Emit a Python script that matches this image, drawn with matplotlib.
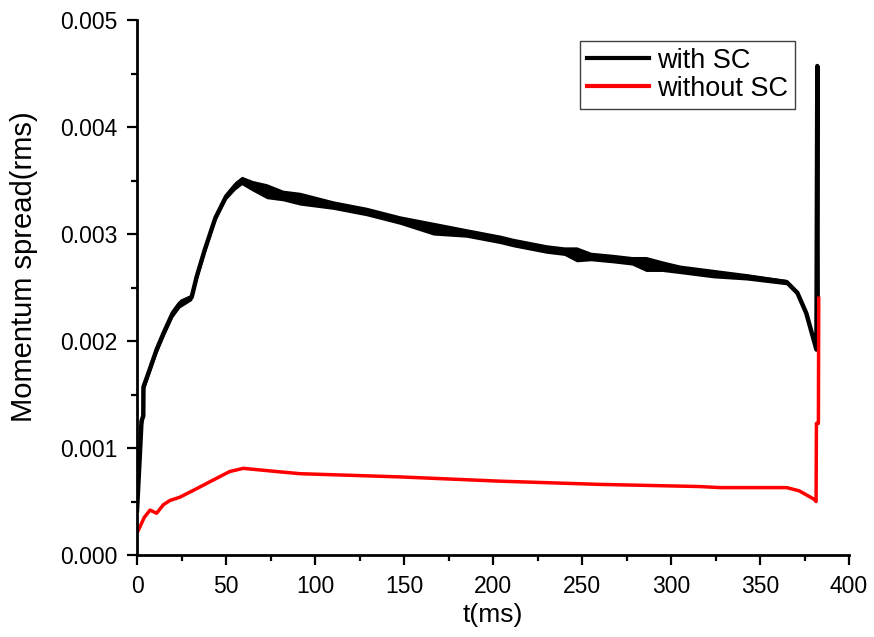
import matplotlib
matplotlib.use("Agg")
import matplotlib.pyplot as plt
from matplotlib.ticker import MultipleLocator

plt.rcParams['font.family'] = ['Liberation Sans', 'DejaVu Sans']

# with SC (black): time (ms), centre value, half thickness of the oscillation band
t_sc = [0, 1.7, 2.5, 3.5, 3.6, 6.4, 11, 14.8, 20, 24, 30.7, 33.5, 38, 44, 50, 55, 58.8,
        65, 72.9, 82, 91.6, 110.3, 129, 147.8, 166.5, 185, 204, 211.4, 230, 240, 247, 255,
        267.5, 278, 286, 295, 305, 323.8, 342.5, 365, 368, 371, 376, 381.7, 382.2, 382.4]
sc_mid = [0.00042, 0.00098, 0.00125, 0.00130, 0.00157, 0.00170, 0.00192, 0.00207, 0.00226,
          0.00235, 0.00241, 0.00260, 0.00285, 0.00315, 0.00335, 0.00345, 0.00350,
          0.00345, 0.00340, 0.00336, 0.00333, 0.00327, 0.00321, 0.00313, 0.00305, 0.00301,
          0.00295, 0.00292, 0.00286, 0.00284, 0.00281, 0.00279, 0.00277, 0.00275, 0.00272,
          0.00270, 0.00267, 0.00263, 0.00260, 0.00255, 0.00250, 0.00245, 0.00226, 0.00192,
          0.00457, 0.00240]
sc_half = [0.000025, 0.00004, 0.00005, 0.00005, 0.00005, 0.00004, 0.00004, 0.00004, 0.00004,
           0.00004, 0.00003, 0.00004, 0.00004, 0.00003, 0.00003, 0.00004, 0.00004,
           0.00005, 0.00007, 0.00005, 0.00006, 0.00004, 0.00004, 0.00004, 0.00006, 0.00004,
           0.00004, 0.00004, 0.00004, 0.00004, 0.00007, 0.00004, 0.00004, 0.00004, 0.00007,
           0.00005, 0.00004, 0.00004, 0.00003, 0.000025, 0.000025, 0.000025, 0.000025,
           0.00001, 0.00001, 0.00001]

# without SC (red)
t_nosc = [0, 0.7, 4, 7.3, 11, 14.8, 18.5, 24, 33.5, 42.7, 52, 59.7, 78.5, 91.6, 147.8,
          204, 260, 316, 327.5, 365, 372, 380.5, 381.5, 381.7, 382.8, 383.0]
nosc = [0.00021, 0.00023, 0.00035, 0.00042, 0.00039, 0.00047, 0.00051, 0.00054, 0.00062,
        0.00070, 0.00078, 0.00081, 0.00078, 0.00076, 0.00073, 0.00069, 0.00066, 0.00064,
        0.00063, 0.00063, 0.00060, 0.00052, 0.00050, 0.00123, 0.00123, 0.00240]

fig = plt.figure(figsize=(8.74, 6.37), dpi=100)
ax = fig.add_axes([0.1568, 0.1287, 0.8146, 0.8399])

lo = [m - h for m, h in zip(sc_mid, sc_half)]
hi = [m + h for m, h in zip(sc_mid, sc_half)]
ax.fill_between(t_sc, lo, hi, color='black', lw=0)
ax.plot(t_sc, sc_mid, color='black', lw=3.2, label='with SC')
ax.plot(t_nosc, nosc, color='red', lw=2.5, label='without SC')

ax.set_xlim(0, 400)
ax.set_ylim(0, 0.005)
ax.xaxis.set_major_locator(MultipleLocator(50))
ax.xaxis.set_minor_locator(MultipleLocator(25))
ax.yaxis.set_major_locator(MultipleLocator(0.001))
ax.yaxis.set_minor_locator(MultipleLocator(0.0005))
ax.yaxis.set_major_formatter(plt.FormatStrFormatter('%.3f'))

for side in ['top', 'right']:
    ax.spines[side].set_visible(False)
for side in ['left', 'bottom']:
    ax.spines[side].set_linewidth(2.0)

ax.tick_params(which='major', direction='out', length=7.3, width=1.6, labelsize=16.5, pad=7)
ax.tick_params(which='minor', direction='out', length=4.3, width=1.6)

ax.set_xlabel('t(ms)', fontsize=19, labelpad=4)
ax.set_ylabel('Momentum spread(rms)', fontsize=21)
ax.yaxis.set_label_coords(-0.139, 0.538)

leg = ax.legend(loc='upper right', bbox_to_anchor=(0.924, 0.961), fontsize=19.5,
                handlelength=2.3, handletextpad=0.3, borderpad=0.25, labelspacing=0.08,
                fancybox=False, framealpha=1, edgecolor='#404040', borderaxespad=0)
leg.get_frame().set_linewidth(1.0)
for line in leg.get_lines():
    line.set_linewidth(3)

fig.savefig('out.png', dpi=100, facecolor='white')
